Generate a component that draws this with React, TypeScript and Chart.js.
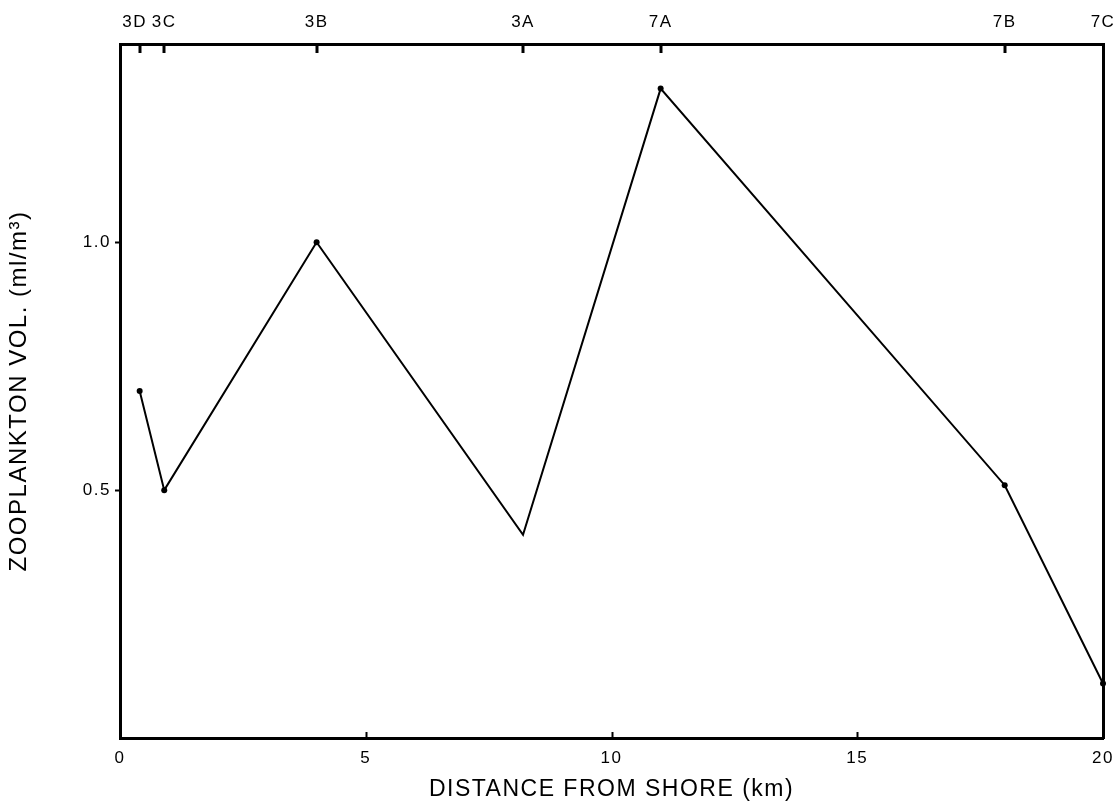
import React, { useEffect, useRef } from "react";
import { Chart, registerables } from "chart.js";

Chart.register(...registerables);

const stationLabels = ["3D", "3C", "3B", "3A", "7A", "7B", "7C"];
const distanceKm = [0.4, 0.9, 4.0, 8.2, 11.0, 18.0, 20.0];
const zooplanktonVol = [0.7, 0.5, 1.0, 0.41, 1.31, 0.51, 0.11];
const distanceTicks = [0, 5, 10, 15, 20];
const volumeTicks = [0.5, 1.0];
const hiddenPointStations = ["3A"];

const FONT = "'Liberation Sans', Arial, Helvetica, sans-serif";

const inwardTicks = {
  id: "inwardTicks",
  afterDatasetsDraw(chart: any) {
    const ctx = chart.ctx;
    const x = chart.scales.x;
    const x2 = chart.scales.x2;
    const area = chart.chartArea;
    ctx.save();
    ctx.strokeStyle = "#000";
    ctx.lineWidth = 2;
    distanceTicks.forEach((v) => {
      if (v === 0 || v === 20) return;
      const px = Math.round(x.getPixelForValue(v)) + 0.5;
      ctx.beginPath();
      ctx.moveTo(px, area.bottom);
      ctx.lineTo(px, area.bottom - 6);
      ctx.stroke();
    });
    ctx.lineWidth = 3;
    distanceKm.forEach((v) => {
      if (v >= 20) return;
      const px = Math.round(x2.getPixelForValue(v));
      ctx.beginPath();
      ctx.moveTo(px, area.top);
      ctx.lineTo(px, area.top + 9);
      ctx.stroke();
    });
    ctx.restore();
  },
};

const spacing = {
  id: "spacing",
  beforeDraw(chart: any) {
    chart.ctx.letterSpacing = "1.5px";
  },
  afterDraw(chart: any) {
    chart.ctx.letterSpacing = "0px";
  },
};

const noPad = (s: any) => {
  s.paddingLeft = 0;
  s.paddingRight = 0;
  s.paddingTop = 0;
  s.paddingBottom = 0;
};

export default function App() {
  const ref = useRef<HTMLCanvasElement | null>(null);

  useEffect(() => {
    if (!ref.current) return;
    const points = distanceKm.map((d, i) => ({ x: d, y: zooplanktonVol[i] }));
    const chart = new Chart(ref.current, {
      type: "line",
      data: {
        datasets: [
          {
            data: points,
            borderColor: "#000",
            backgroundColor: "#000",
            borderWidth: 2,
            pointRadius: (c: any) =>
              hiddenPointStations.includes(stationLabels[c.dataIndex]) ? 0 : 3,
            pointBorderWidth: 0,
            pointBackgroundColor: "#000",
            tension: 0,
            clip: false as any,
          },
        ],
      },
      options: {
        animation: false,
        responsive: true,
        maintainAspectRatio: false,
        layout: { padding: 0 },
        plugins: {
          legend: { display: false },
          tooltip: { enabled: false },
        },
        scales: {
          x: {
            type: "linear",
            position: "bottom",
            min: 0,
            max: 20,
            afterBuildTicks: (s: any) => {
              s.ticks = distanceTicks.map((v) => ({ value: v }));
            },
            afterFit: (s: any) => {
              s.height = 67;
              noPad(s);
            },
            ticks: {
              color: "#000",
              font: { family: FONT, size: 17 },
              padding: 10,
              maxRotation: 0,
              autoSkip: false,
            },
            grid: { drawOnChartArea: false, drawTicks: false },
            border: { display: true, color: "#000", width: 3 },
            title: {
              display: true,
              text: "DISTANCE FROM SHORE (km)",
              color: "#000",
              font: { family: FONT, size: 23 },
              padding: { top: 2, bottom: 2 },
            },
          },
          x2: {
            type: "linear",
            position: "top",
            min: 0,
            max: 20,
            afterBuildTicks: (s: any) => {
              s.ticks = distanceKm.map((v) => ({ value: v }));
            },
            afterFit: (s: any) => {
              s.height = 44;
              noPad(s);
            },
            ticks: {
              color: "#000",
              font: { family: FONT, size: 17 },
              padding: 11,
              maxRotation: 0,
              autoSkip: false,
              callback: (_v: any, i: number) =>
                i === 0 ? stationLabels[i] + "\u2002" : stationLabels[i],
            },
            grid: { drawOnChartArea: false, drawTicks: false },
            border: { display: true, color: "#000", width: 3 },
          },
          y: {
            type: "linear",
            position: "left",
            min: 0,
            max: 1.4,
            afterBuildTicks: (s: any) => {
              s.ticks = volumeTicks.map((v) => ({ value: v }));
            },
            afterFit: (s: any) => {
              s.width = 120;
              noPad(s);
            },
            ticks: {
              color: "#000",
              font: { family: FONT, size: 17 },
              padding: 4,
              callback: (v: any) => Number(v).toFixed(1),
            },
            grid: {
              drawOnChartArea: false,
              drawTicks: true,
              tickLength: 5,
              tickColor: "#000",
              tickWidth: 2,
            },
            border: { display: true, color: "#000", width: 3 },
            title: {
              display: true,
              text: "ZOOPLANKTON VOL. (ml/m\u00b3)",
              color: "#000",
              font: { family: FONT, size: 24 },
              padding: { top: 5, bottom: 4 },
            },
          },
          y2: {
            type: "linear",
            position: "right",
            min: 0,
            max: 1.4,
            afterFit: (s: any) => {
              s.width = 16;
              noPad(s);
            },
            ticks: { display: false },
            grid: { display: false, drawTicks: false },
            border: { display: true, color: "#000", width: 3 },
          },
        },
      },
      plugins: [spacing, inwardTicks],
    });
    return () => chart.destroy();
  }, []);

  return (
    <div
      style={{
        position: "fixed",
        left: 0,
        top: 0,
        width: 1119,
        height: 805,
        background: "#fff",
      }}
    >
      <canvas ref={ref} />
    </div>
  );
}
